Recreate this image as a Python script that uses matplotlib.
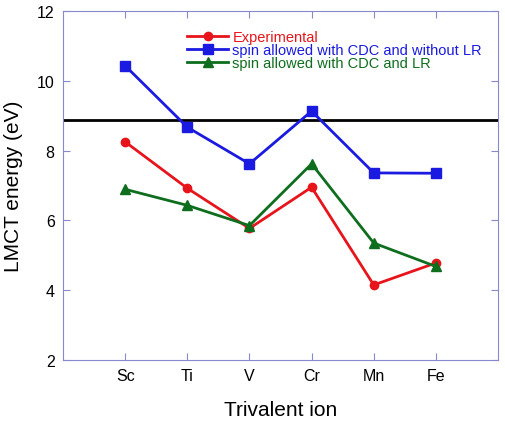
import matplotlib.pyplot as plt
import numpy as np

plt.rcParams['font.family'] = ['Liberation Sans', 'DejaVu Sans']

ions = ['Sc', 'Ti', 'V', 'Cr', 'Mn', 'Fe']
experimental = [8.25, 6.92, 5.77, 6.95, 4.15, 4.78]
cdc_no_lr = [10.43, 8.67, 7.62, 9.13, 7.36, 7.35]
cdc_lr = [6.89, 6.43, 5.85, 7.62, 5.35, 4.68]
ref_level = 8.87

x = np.arange(1, len(ions) + 1)

fig = plt.figure(figsize=(5.05, 4.27), dpi=100)
ax = fig.add_axes([0.1248, 0.1546, 0.8614, 0.8174])

ax.axhline(ref_level, color='black', lw=2)
ax.plot(x, experimental, '-o', color='#e8141c', lw=2, ms=6, label='Experimental')
ax.plot(x, cdc_no_lr, '-s', color='#1a1ae0', lw=2, ms=7, label='spin allowed with CDC and without LR')
ax.plot(x, cdc_lr, '-^', color='#0e6e1e', lw=2, ms=7, label='spin allowed with CDC and LR')

ax.set_xlim(0, 7)
ax.set_ylim(2, 12)
ax.set_xticks(x)
ax.set_xticklabels(ions)
ax.set_yticks([2, 4, 6, 8, 10, 12])
ax.tick_params(direction='in', top=True, right=True, length=5, color='#8888cc',
               labelsize=11.5, pad=6)
for s in ax.spines.values():
    s.set_color('#8888cc')
ax.set_xlabel('Trivalent ion', fontsize=15, labelpad=12)
ax.set_ylabel('LMCT energy (eV)', fontsize=15, labelpad=10)

leg = ax.legend(loc='upper left', bbox_to_anchor=(0.262, 0.975), frameon=False,
                fontsize=10.5, labelspacing=-0.05, handlelength=2.8, handletextpad=0.3,
                borderpad=0.2, labelcolor='linecolor')

fig.savefig('out.png', dpi=100)
